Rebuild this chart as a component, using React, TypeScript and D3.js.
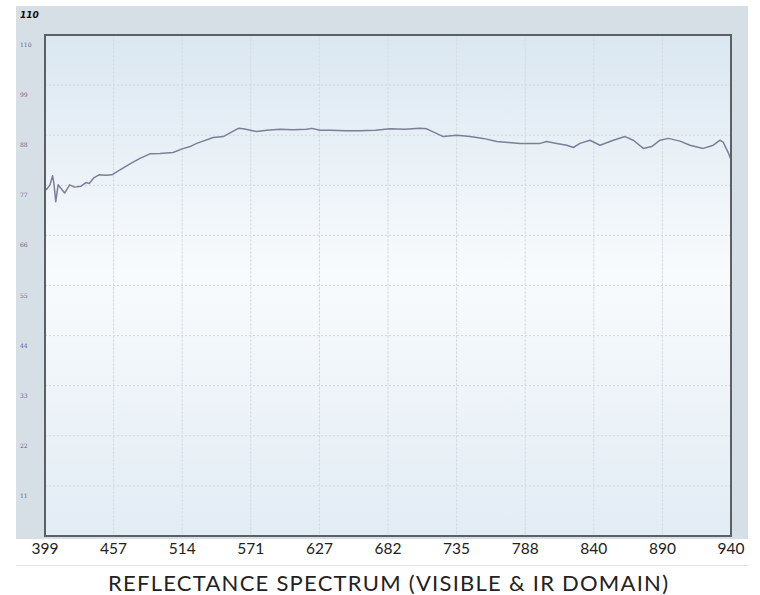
import React, { useRef, useEffect } from "react";
import * as d3 from "d3";

// wavelength ticks (nm) printed under the plot, evenly spaced on screen
const xTicks = [399, 457, 514, 571, 627, 682, 735, 788, 840, 890, 940];
const yTicks = [11, 22, 33, 44, 55, 66, 77, 88, 99, 110];

// reflectance (%)
const wavelengths = [
  399, 400.4, 403.2, 405.4, 406.5, 408.1, 410.1, 412.9, 415.6, 419.8, 423.9, 429.5, 433.6, 436.4,
  440.5, 444.7, 450.3, 455.5, 462.3, 470.6, 478.9, 487.2, 495.6, 506.4, 514, 520.5, 526, 539.8,
  548.2, 560.6, 564.8, 575.8, 584, 594.8, 605, 616.6, 620.7, 627.5, 635.5, 648, 659.5, 672, 683.5,
  695, 706.7, 711.9, 724.7, 735.1, 745.4, 755.6, 766, 775, 784, 799.2, 804.3, 811.9, 819.5, 824.5,
  829.5, 837.1, 844.5, 854.2, 862.7, 868.8, 876.1, 882.2, 888.3, 894.3, 902.8, 910.1, 919.8,
  927.1, 932, 934.4, 937.8, 940,
];
const reflectance = [
  76.4, 76.1, 77.1, 79.1, 77.5, 73.4, 77.1, 76.2, 75.3, 77.1, 76.6, 76.8, 77.6, 77.4,
  78.7, 79.3, 79.2, 79.3, 80.4, 81.7, 82.9, 83.9, 84.0, 84.2, 85.0, 85.5, 86.2, 87.5,
  87.7, 89.5, 89.4, 88.8, 89.1, 89.3, 89.2, 89.3, 89.5, 89.1, 89.1, 89.0, 89.0, 89.1, 89.4,
  89.3, 89.5, 89.4, 87.7, 88.0, 87.7, 87.3, 86.6, 86.4, 86.2, 86.2, 86.6, 86.2, 85.8, 85.3,
  86.2, 86.9, 85.8, 86.9, 87.7, 86.9, 85.1, 85.5, 86.9, 87.3, 86.7, 85.8, 85.1,
  85.8, 86.9, 86.4, 84.3, 82.6,
];

export default function App() {
  const svgRef = useRef<SVGSVGElement>(null);

  useEffect(() => {
    if (!svgRef.current) return;
    const svg = d3.select(svgRef.current);
    svg.selectAll("*").remove();

    const width = 760;
    const height = 595;
    const plot = { left: 45, right: 731, top: 35, bottom: 536 };

    // polylinear scale: ticks are evenly spaced though wavelengths are not
    const step = (plot.right - plot.left) / (xTicks.length - 1);
    const x = d3.scaleLinear()
      .domain(xTicks)
      .range(xTicks.map((_, i) => plot.left + i * step));
    const y = d3.scaleLinear().domain([0, 110]).range([plot.bottom, plot.top]);

    const defs = svg.append("defs");
    const grad = defs.append("linearGradient")
      .attr("id", "plotBg").attr("x1", 0).attr("x2", 0).attr("y1", 0).attr("y2", 1);
    grad.append("stop").attr("offset", "0%").attr("stop-color", "#dae7f1");
    grad.append("stop").attr("offset", "48%").attr("stop-color", "#f8fbfd");
    grad.append("stop").attr("offset", "100%").attr("stop-color", "#e2ecf4");

    svg.append("rect")
      .attr("width", width).attr("height", height).attr("fill", "#ffffff");

    // outer panel
    svg.append("rect")
      .attr("x", 16).attr("y", 6)
      .attr("width", 748 - 16).attr("height", 539 - 6)
      .attr("fill", "#d6dee6");

    svg.append("rect")
      .attr("x", plot.left).attr("y", plot.top)
      .attr("width", plot.right - plot.left).attr("height", plot.bottom - plot.top)
      .attr("fill", "url(#plotBg)");

    // grid
    const g = svg.append("g");
    g.selectAll(".hgrid")
      .data(yTicks.slice(0, -1))
      .enter()
      .append("line")
      .attr("x1", plot.left).attr("x2", plot.right)
      .attr("y1", (d) => y(d)).attr("y2", (d) => y(d))
      .attr("stroke", "#cfd6dd").attr("stroke-width", 1)
      .attr("stroke-dasharray", "2,2");

    g.selectAll(".vgrid")
      .data(xTicks.slice(1, -1))
      .enter()
      .append("line")
      .attr("x1", (d) => x(d)).attr("x2", (d) => x(d))
      .attr("y1", plot.top).attr("y2", plot.bottom)
      .attr("stroke", "#d6dce2").attr("stroke-width", 1)
      .attr("stroke-dasharray", "3,1");

    // spectrum trace
    const line = d3.line<number>()
      .x((_, i) => x(wavelengths[i]))
      .y((d) => y(d))
      .curve(d3.curveLinear);

    svg.append("path")
      .datum(reflectance)
      .attr("d", line)
      .attr("fill", "none")
      .attr("stroke", "#7c7f96")
      .attr("stroke-width", 1.5)
      .attr("stroke-linejoin", "round");

    // plot frame
    svg.append("rect")
      .attr("x", plot.left).attr("y", plot.top)
      .attr("width", plot.right - plot.left).attr("height", plot.bottom - plot.top)
      .attr("fill", "none")
      .attr("stroke", "#5b6067").attr("stroke-width", 2);

    // y labels sit just below their grid line
    svg.selectAll(".ylab")
      .data(yTicks)
      .enter()
      .append("text")
      .attr("x", 20)
      .attr("y", (d) => y(d) + 12)
      .attr("fill", "#5d6690")
      .attr("font-size", "6px")
      .attr("font-family", "DejaVu Serif, serif")
      .text((d) => d);

    svg.append("text")
      .attr("x", 20).attr("y", 18)
      .attr("fill", "#111")
      .attr("font-size", "9px")
      .attr("font-weight", "bold")
      .attr("font-style", "italic")
      .attr("font-family", "DejaVu Sans, sans-serif")
      .text("110");

    // x labels
    svg.selectAll(".xlab")
      .data(xTicks)
      .enter()
      .append("text")
      .attr("x", (d) => x(d))
      .attr("y", 554)
      .attr("text-anchor", "middle")
      .attr("fill", "#222")
      .attr("font-size", "15.5px")
      .attr("font-family", "Lato, sans-serif")
      .text((d) => d);

    svg.append("line")
      .attr("x1", 16).attr("x2", 748)
      .attr("y1", 565.5).attr("y2", 565.5)
      .attr("stroke", "#e2e2e2").attr("stroke-width", 1);

    svg.append("text")
      .attr("x", 388).attr("y", 591)
      .attr("text-anchor", "middle")
      .attr("fill", "#222")
      .attr("font-size", "22px")
      .attr("font-family", "Lato, sans-serif")
      .attr("textLength", 560)
      .attr("lengthAdjust", "spacing")
      .text("REFLECTANCE SPECTRUM (VISIBLE & IR DOMAIN)");
  }, []);

  return (
    <svg
      ref={svgRef}
      width={760}
      height={595}
      style={{ position: "absolute", left: 0, top: 0, display: "block" }}
    />
  );
}
